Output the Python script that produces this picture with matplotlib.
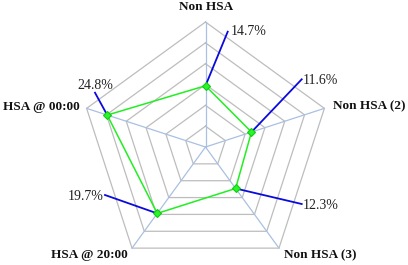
import numpy as np
import matplotlib
matplotlib.use("Agg")
import matplotlib.pyplot as plt

categories = ["Non HSA", "Non HSA (2)", "Non HSA (3)", "HSA @ 20:00", "HSA @ 00:00"]
values = [14.7, 11.6, 12.3, 19.7, 24.8]
value_labels = ["14.7%", "11.6%", "12.3%", "19.7%", "24.8%"]
r_max = 30
ring_levels = [5, 10, 15, 20, 25, 30]

W, H = 408, 265
fig = plt.figure(figsize=(W / 100, H / 100), dpi=100)
ax = fig.add_axes([0, 0, 1, 1])
cx, cy, rad_px = 205.5, 147.0, 125.0
s = rad_px / r_max
ax.set_xlim(-cx / s, (W - cx) / s)
ax.set_ylim(-(H - cy) / s, cy / s)
ax.axis("off")

n = len(categories)
ang = np.deg2rad(90 - 72 * np.arange(n))
ang_c = np.append(ang, ang[0])

# grid rings
for lv in ring_levels:
    ax.plot(lv * np.cos(ang_c), lv * np.sin(ang_c), color="#bdbdbd", lw=0.9, zorder=1)
# spokes
for a in ang:
    ax.plot([0, r_max * np.cos(a)], [0, r_max * np.sin(a)], color="#aac0e2", lw=0.9, zorder=2)

v = np.array(values)
vc = np.append(v, v[0])
px = vc * np.cos(ang_c)
py = vc * np.sin(ang_c)

# leader end points (layout, px offsets from centre)
leader_ends = [(22.2, 115.3), (96.2, 67.7), (96.2, -57.0), (-100.5, -48.0), (-110.5, 54.3)]
text_spec = [
    ("left", "center", 3, 0),
    ("left", "center", 1, -1.5),
    ("left", "center", 1, -1.5),
    ("right", "center", -1, -1),
    ("center", "bottom", 0, 1),
]
for i in range(n):
    ex, ey = leader_ends[i][0] / s, leader_ends[i][1] / s
    ax.plot([px[i], ex], [py[i], ey], color="#0a0adc", lw=1.3, zorder=3)
    ha, va, ox, oy = text_spec[i]
    ax.annotate(value_labels[i], (ex, ey), xytext=(ox, oy), textcoords="offset pixels",
                ha=ha, va=va, fontsize=10, family="Liberation Serif", color="#222222")

ax.plot(px, py, color="#22ee22", lw=1.1, zorder=4)
ax.plot(px[:-1], py[:-1], ls="none", marker="D", ms=4.2, color="#2af52a",
        markeredgecolor="#11cc11", markeredgewidth=0.8, zorder=5)

cat_spec = [
    ("center", "center", 0.5, 15.5),
    ("left", "center", 8.3, 1.7),
    ("left", "center", 5, -7),
    ("right", "center", -4.3, -7),
    ("right", "center", -7.1, 1.7),
]
for i in range(n):
    ha, va, ox, oy = cat_spec[i]
    ax.annotate(categories[i], (r_max * np.cos(ang[i]), r_max * np.sin(ang[i])),
                xytext=(ox, oy), textcoords="offset pixels", ha=ha, va=va,
                fontsize=9.5, fontweight="bold", family="Liberation Serif", color="#111111")

fig.savefig("out.png", dpi=100)
